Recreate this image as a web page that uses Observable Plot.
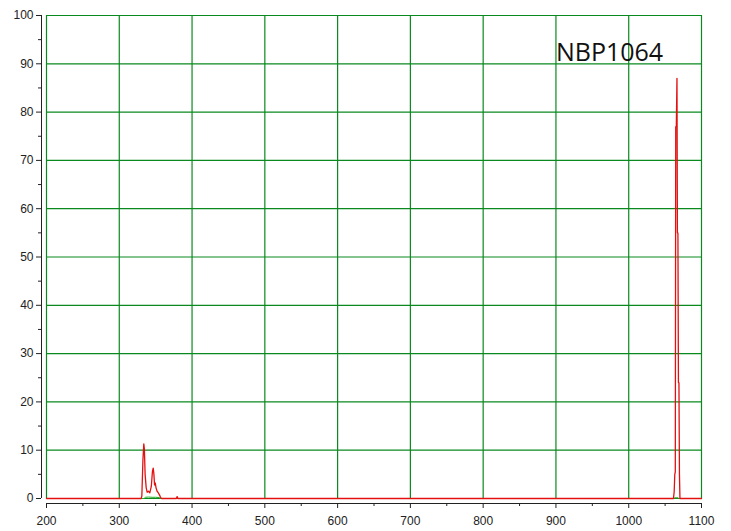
<!DOCTYPE html>
<html>
<head>
<meta charset="utf-8">
<script src="https://cdn.jsdelivr.net/npm/d3@7"></script>
<script src="https://cdn.jsdelivr.net/npm/@observablehq/plot@0.6"></script>
<style>
  html, body { margin: 0; padding: 0; background: #fff; }
</style>
</head>
<body>
<div id="chart"></div>
<script>
// Wavelength (nm) and transmission (%)
const redWavelength = [200, 330, 331, 332.5, 333.7, 334.5, 335.5, 337, 338.3, 340, 342, 344, 345.5, 346.6, 347.5, 348.5, 349.5, 350.5, 352, 353.5, 355, 356.6, 358, 378.5, 379.5, 380.5, 1061.5, 1062.5, 1063.3, 1064, 1064.6, 1065.4, 1066.3, 1066.9, 1067.6, 1068.3, 1069, 1069.7, 1070.4, 1100];
const redValue      = [0,   0,   0.5, 8,     11.3,  10.2,  5,     2.2, 1.3,   1.5, 1.2, 2.5, 5.5,   6.3,   5.2,   2.8,   3.2,   2.2,   1.5, 1.2,   0.8, 0.3,   0,   0,     0.4,   0,     0,      1.5,    5,      5.5,  77,     77,     87,     55,     55,     24,     24,   5,      0,      0];

const greenWavelength = [200, 334, 336, 340, 345, 350, 355, 357, 1062, 1063, 1068, 1069, 1100];
const greenValue      = [0,   0,   0.25, 0.3, 0.25, 0.25, 0.2, 0,  0,    0.15, 0.15, 0,    0];

const xMajorTicks = [200, 300, 400, 500, 600, 700, 800, 900, 1000, 1100];
const xMinorTicks = [250, 350, 450, 550, 650, 750, 850, 950, 1050];
const yMajorTicks = [0, 10, 20, 30, 40, 50, 60, 70, 80, 90, 100];
const yMinorTicks = [5, 15, 25, 35, 45, 55, 65, 75, 85, 95];

const titleLabel = [{x: 900, y: 92.2, text: "NBP1064"}];

const red = redWavelength.map((w, i) => ({w, v: redValue[i]}));
const green = greenWavelength.map((w, i) => ({w, v: greenValue[i]}));

const gridColor = "#0a8a1e";
const font = "Liberation Sans, Arial, sans-serif";

const chart = Plot.plot({
  width: 731,
  height: 531,
  marginLeft: 46,
  marginRight: 30,
  marginTop: 15,
  marginBottom: 33,
  style: {fontFamily: font, fontSize: "12px", background: "#fff", color: "#222"},
  x: {domain: [200, 1100]},
  y: {domain: [0, 100]},
  marks: [
    Plot.ruleX(xMajorTicks, {stroke: gridColor, strokeWidth: 1.2}),
    Plot.ruleY(yMajorTicks, {stroke: gridColor, strokeWidth: 1.2}),
    // X axis
    Plot.ruleY([0], {dy: 5, stroke: "#222", strokeWidth: 1}),
    Plot.axisX({ticks: xMajorTicks, tickSize: 5, dy: 5, tickPadding: 8, tickFormat: d => String(d), label: null, fontSize: 12}),
    Plot.axisX({ticks: xMinorTicks, tickSize: 3, dy: 5, tickFormat: () => "", label: null}),
    // Y axis
    Plot.ruleX([200], {dx: -5, stroke: "#222", strokeWidth: 1}),
    Plot.axisY({ticks: yMajorTicks, tickSize: 5, dx: -5, tickPadding: 3, tickFormat: d => String(d), label: null, fontSize: 12}),
    Plot.axisY({ticks: yMinorTicks, tickSize: 3, dx: -5, tickFormat: () => "", label: null}),
    // Data
    Plot.line(green, {x: "w", y: "v", stroke: "#22aa22", strokeWidth: 1}),
    Plot.line(red, {x: "w", y: "v", stroke: "#e31010", strokeWidth: 1.3}),
    Plot.text(titleLabel, {x: "x", y: "y", text: "text", textAnchor: "start", lineAnchor: "middle", fontSize: 25, fill: "#111", fontFamily: "Open Sans, Noto Sans, sans-serif"})
  ]
});

document.getElementById("chart").appendChild(chart);
</script>
</body>
</html>
